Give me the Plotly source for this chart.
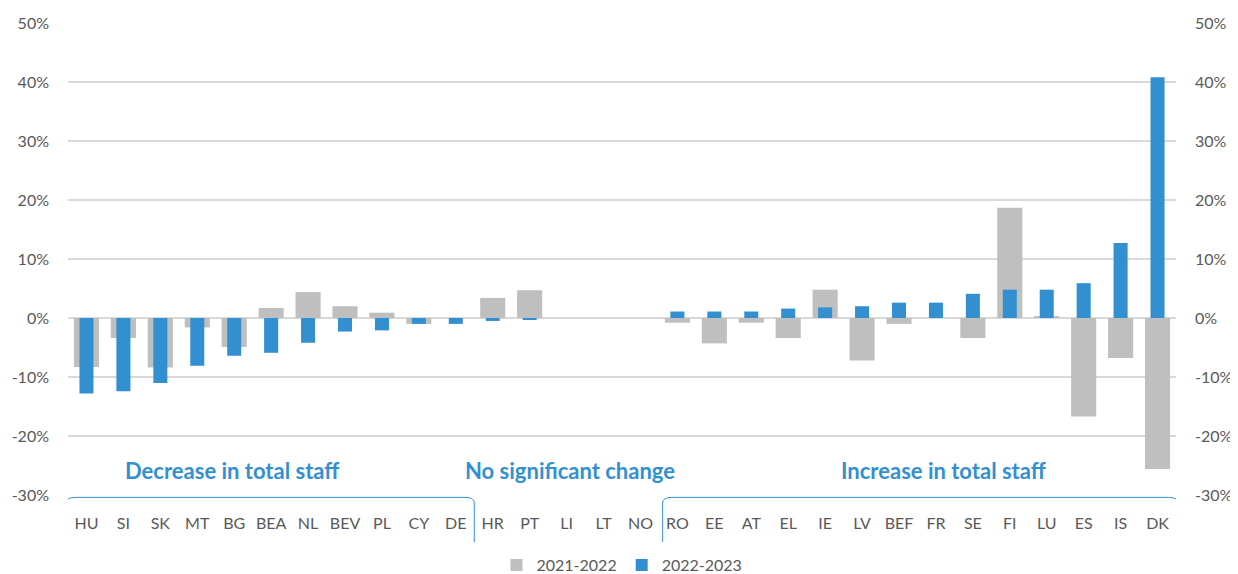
import plotly.graph_objects as go

# ── Data ────────────────────────────────────────────────────────────────────────
countries = ["HU", "SI", "SK", "MT", "BG", "BEA", "NL", "BEV", "PL", "CY", "DE",
             "HR", "PT", "LI", "LT", "NO",
             "RO", "EE", "AT", "EL", "IE", "LV", "BEF", "FR", "SE", "FI", "LU", "ES", "IS", "DK"]

change_2021_2022 = [-8.3, -3.4, -8.4, -1.6, -4.9, 1.7, 4.4, 2.0, 0.9, -1.0, 0.0,
                    3.4, 4.7, 0.0, 0.0, 0.0,
                    -0.8, -4.3, -0.8, -3.4, 4.8, -7.2, -1.0, 0.0, -3.4, 18.7, 0.2, -16.7, -6.8, -25.6]

change_2022_2023 = [-12.8, -12.4, -11.0, -8.1, -6.4, -5.9, -4.2, -2.3, -2.1, -1.0, -1.0,
                    -0.5, -0.3, 0.0, 0.0, 0.0,
                    1.1, 1.1, 1.1, 1.6, 1.8, 2.0, 2.6, 2.6, 4.1, 4.8, 4.8, 5.9, 12.7, 40.8]

group_labels = ["Decrease in total staff", "No significant change", "Increase in total staff"]

# ── Style ───────────────────────────────────────────────────────────────────────
GREY = "#BFBFBF"
BLUE = "#3390D0"
TEXT = "#595959"
GRID = "#D9D9D9"
FONT = "Lato, 'Open Sans', sans-serif"

fig = go.Figure()

fig.add_trace(go.Bar(
    x=countries, y=change_2021_2022, name="2021-2022",
    marker=dict(color=GREY, line=dict(width=0)),
    width=0.68,
))
fig.add_trace(go.Bar(
    x=countries, y=change_2022_2023, name="2022-2023",
    marker=dict(color=BLUE, line=dict(width=0)),
    width=0.38,
))
# invisible trace so the right-hand axis is drawn
fig.add_trace(go.Scatter(
    x=countries, y=change_2022_2023, yaxis="y2", mode="markers",
    marker=dict(opacity=0), showlegend=False, hoverinfo="skip",
))

tick_vals = list(range(-30, 51, 10))
tick_text = [f"{v}%" for v in tick_vals]
yaxis_common = dict(
    range=[-30, 50], tickvals=tick_vals, ticktext=tick_text,
    tickfont=dict(size=16, color=TEXT, family=FONT),
    zeroline=False, showline=False, automargin=False,
    ticklabelstandoff=18,
)

fig.update_layout(
    barmode="overlay",
    paper_bgcolor="white",
    plot_bgcolor="white",
    font=dict(family=FONT, color=TEXT),
    width=1238, height=574,
    margin=dict(l=60, r=70, t=15, b=87, autoexpand=False),
    xaxis=dict(
        tickfont=dict(size=16, color=TEXT, family=FONT),
        showgrid=False, showline=False, ticks="",
        ticklabelstandoff=17, automargin=False,
        range=[-0.5, 29.5],
    ),
    yaxis=dict(**yaxis_common, showgrid=True, gridcolor=GRID, gridwidth=2),
    yaxis2=dict(**yaxis_common, overlaying="y", side="right", showgrid=False),
    legend=dict(
        orientation="h", x=0.5, xanchor="center",
        yref="container", y=0.0, yanchor="bottom",
        font=dict(size=16, color=TEXT, family=FONT),
        itemwidth=30, traceorder="normal",
    ),
    showlegend=True,
)

# group titles
for label, xc in zip(group_labels, [3.95, 13.1, 23.2]):
    fig.add_annotation(
        x=xc, y=-25.8, xref="x", yref="y", text=f"<b>{label}</b>",
        showarrow=False, font=dict(size=22, color=BLUE, family=FONT),
    )

# brackets under the decrease / increase groups
def bracket(x0, x1):
    y_top, y_bot, r = -0.005, -0.1, 0.012
    return dict(
        type="path", xref="x", yref="paper",
        path=(f"M {x0},{y_bot} L {x0},{y_top - r} Q {x0},{y_top} {x0 + 0.25},{y_top} "
              f"L {x1 - 0.25},{y_top} Q {x1},{y_top} {x1},{y_top - r} L {x1},{y_bot}"),
        line=dict(color=BLUE, width=1),
    )

fig.update_layout(shapes=[bracket(-0.55, 10.5), bracket(15.6, 29.55)])

fig.write_html("out.html")
